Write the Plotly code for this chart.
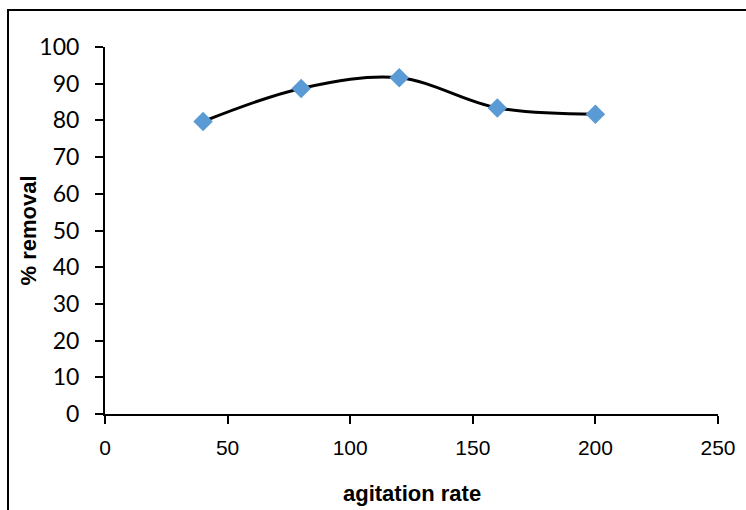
import plotly.graph_objects as go

agitation_rate = [40, 80, 120, 160, 200]
removal = [79.7, 88.7, 91.6, 83.4, 81.7]
x_ticks = [0, 50, 100, 150, 200, 250]
y_ticks = [0, 10, 20, 30, 40, 50, 60, 70, 80, 90, 100]

W, H = 746, 510
L, R, T, B = 105, 28, 47, 96
pw, ph = W - L - R, H - T - B

fig = go.Figure()
fig.add_trace(go.Scatter(
    x=agitation_rate, y=removal, mode="lines+markers",
    line=dict(color="black", width=3, shape="spline", smoothing=1.0),
    marker=dict(symbol="diamond", size=15, color="#5B9BD5"),
    showlegend=False, cliponaxis=False,
))

xfont = "Liberation Sans, Arial, sans-serif"
yfont = "Lato, sans-serif"
fig.update_layout(
    width=W, height=H,
    margin=dict(l=L, r=R, t=T, b=B),
    paper_bgcolor="white", plot_bgcolor="white",
    xaxis=dict(
        range=[0, 250], tickvals=x_ticks, showgrid=False, zeroline=False,
        showline=True, linecolor="black", linewidth=2,
        ticks="outside", ticklen=8, tickcolor="black", tickwidth=1.5,
        ticklabelstandoff=6, automargin=False,
        tickfont=dict(family=xfont, size=21, color="black"),
    ),
    yaxis=dict(
        range=[0, 100], tickvals=y_ticks, showgrid=False, zeroline=False,
        showline=True, linecolor="black", linewidth=2,
        ticks="outside", ticklen=8, tickcolor="black", tickwidth=1.5,
        ticklabelstandoff=11, automargin=False,
        tickfont=dict(family=yfont, size=23, color="black"),
    ),
    annotations=[
        dict(text="<b>% removal</b>", xref="paper", yref="paper",
             x=(28 - L) / pw, y=0.5, xanchor="center", yanchor="middle",
             textangle=-90, showarrow=False,
             font=dict(family=xfont, size=22, color="black")),
        dict(text="<b>agitation rate</b>", xref="paper", yref="paper",
             x=0.5, y=(H - B - 493) / ph, xanchor="center", yanchor="middle",
             showarrow=False,
             font=dict(family=xfont, size=22, color="black")),
    ],
)

# outer chart border (extends past the right and bottom edges of the view)
fig.add_shape(type="rect", xref="paper", yref="paper",
              x0=(8 - L) / pw, x1=(W + 20 - L) / pw,
              y0=-(H + 20 - (H - B)) / ph, y1=1 + (T - 10) / ph,
              line=dict(color="black", width=2), fillcolor="rgba(0,0,0,0)", layer="below")

fig.write_html("out.html", config={"displayModeBar": False},
               post_script="document.body.style.margin='0';document.body.style.overflow='hidden';")
